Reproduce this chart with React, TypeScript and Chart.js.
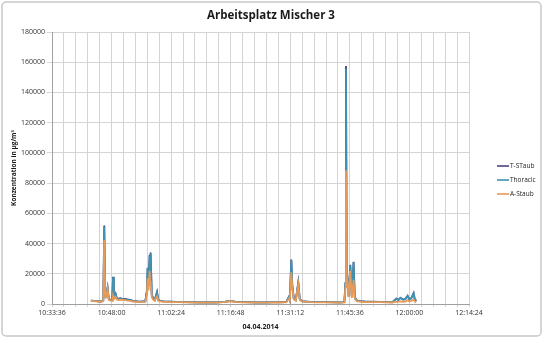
import { useEffect, useRef } from "react";
import { Chart, registerables } from "chart.js";

Chart.register(...registerables);

const TITLE = "Arbeitsplatz Mischer 3";
const X_TITLE = "04.04.2014";
const Y_TITLE = "Konzentration in µg/m³";
const SERIES_NAMES = ["T-STaub", "Thoracic", "A-Staub"];
const SERIES_COLORS = ["#4a4580", "#3f93b2", "#e89a58"];

const X_MIN = "10:33:36";
const X_MAX = "12:14:24";
const X_GRID_STEP = 172.8; // seconds
const X_LABEL_STEP = 864; // seconds
const Y_MIN = 0;
const Y_MAX = 180000;
const Y_STEP = 20000;

const times = [
  "10:43:00", "10:43:40", "10:44:20", "10:45:00", "10:45:40", "10:46:00", "10:46:14", "10:46:26",
  "10:46:36", "10:47:02", "10:47:20", "10:47:42", "10:48:10", "10:48:21", "10:48:32", "10:48:58",
  "10:49:16", "10:49:40", "10:50:07", "10:50:40", "10:51:19", "10:51:50", "10:52:32", "10:53:10",
  "10:53:44", "10:54:20", "10:54:57", "10:55:30", "10:56:09", "10:56:31", "10:56:43", "10:56:57",
  "10:57:12", "10:57:19", "10:57:26", "10:57:43", "10:58:05", "10:58:27", "10:58:59", "10:59:18",
  "10:59:47", "11:00:40", "11:02:12", "11:03:50", "11:05:49", "11:07:30", "11:09:27", "11:11:20",
  "11:13:04", "11:14:30", "11:15:29", "11:16:42", "11:18:09", "11:19:50", "11:21:32", "11:23:20",
  "11:25:10", "11:27:00", "11:28:47", "11:30:14", "11:30:51", "11:31:05", "11:31:27", "11:31:41",
  "11:32:03", "11:32:32", "11:33:08", "11:33:30", "11:34:06", "11:36:02", "11:37:50", "11:39:40",
  "11:41:30", "11:43:18", "11:44:16", "11:44:32", "11:44:40", "11:44:50", "11:45:06", "11:45:19",
  "11:45:42", "11:46:04", "11:46:30", "11:46:48", "11:47:24", "11:49:20", "11:51:10", "11:52:58",
  "11:54:30", "11:55:52", "11:56:50", "11:57:19", "11:57:48", "11:58:31", "11:59:00", "11:59:34",
  "11:59:58", "12:00:27", "12:01:01", "12:01:18", "12:01:40",
];

const tStaub = [
  2300, 2100, 1900, 1700, 1800, 2400, 52000, 9000,
  4200, 11000, 3200, 2700, 2600, 18000, 4200, 6800,
  3800, 3500, 3800, 3400, 3300, 3000, 2700, 2100,
  1900, 1700, 1600, 1700, 1800, 8500, 24000, 12500,
  32500, 20500, 34000, 6200, 3700, 2700, 8000, 2700,
  2100, 1800, 1600, 1400, 1300, 1200, 1100, 1200,
  1100, 1300, 1600, 2100, 1400, 1300, 1200, 1100,
  1100, 1200, 1200, 1400, 4700, 2700, 29500, 12500,
  3700, 2700, 14500, 3200, 1900, 1400, 1300, 1300,
  1200, 1100, 1300, 14000, 157500, 24000, 12500, 5200,
  26000, 5200, 28000, 4200, 2100, 1600, 1500, 1400,
  1300, 1200, 3600, 2600, 4100, 2900, 3300, 5500,
  3100, 3900, 7200, 3100, 2100,
];

const thoracic = [
  2200, 2000, 1850, 1650, 1700, 2300, 51000, 8500,
  4000, 10600, 3000, 2500, 2400, 17700, 4000, 6600,
  3600, 3300, 3600, 3200, 3100, 2800, 2500, 1900,
  1800, 1600, 1500, 1600, 1700, 8000, 23600, 12000,
  31800, 20000, 33500, 6000, 3500, 2500, 7700, 2500,
  2000, 1700, 1500, 1300, 1200, 1100, 1000, 1100,
  1000, 1200, 1500, 2000, 1300, 1200, 1100, 1000,
  1000, 1100, 1100, 1300, 4500, 2500, 29000, 12000,
  3500, 2500, 14100, 3000, 1800, 1300, 1200, 1200,
  1100, 1000, 1200, 13500, 155500, 23000, 12000, 5000,
  25600, 5000, 27600, 4000, 2000, 1500, 1400, 1300,
  1200, 1100, 3500, 2500, 4000, 2800, 3200, 5300,
  3000, 3800, 7000, 3000, 2000,
];

const aStaub = [
  2000, 1850, 1700, 1500, 1550, 2000, 42500, 7000,
  3500, 10000, 2700, 2200, 2100, 5500, 3000, 4500,
  3000, 2600, 2800, 2700, 2600, 2300, 2000, 1600,
  1500, 1400, 1300, 1400, 1500, 6000, 17000, 9000,
  22000, 15000, 15500, 4500, 2800, 2200, 5000, 2100,
  1700, 1500, 1300, 1200, 1100, 1000, 900, 1000,
  900, 1100, 1400, 1800, 1200, 1100, 1000, 900,
  900, 1000, 1000, 1200, 3500, 2200, 21000, 10000,
  3000, 2200, 13000, 2600, 1600, 1200, 1100, 1100,
  1000, 900, 1100, 11000, 88500, 20000, 11000, 4500,
  22000, 4000, 16000, 3200, 1700, 1300, 1200, 1200,
  1100, 1000, 1500, 1400, 1700, 1500, 1600, 2500,
  1600, 2000, 3000, 1500, 1200,
];

const FONT = '"Open Sans", "Noto Sans", sans-serif';

function toSec(s: string): number {
  const [h, m, x] = s.split(":").map(Number);
  return h * 3600 + m * 60 + x;
}
function fmtTime(v: number): string {
  const t = Math.round(v);
  const h = Math.floor(t / 3600);
  const m = Math.floor((t % 3600) / 60);
  const s = t % 60;
  return `${h}:${String(m).padStart(2, "0")}:${String(s).padStart(2, "0")}`;
}

export default function App() {
  const ref = useRef<HTMLCanvasElement>(null);

  useEffect(() => {
    document.body.style.margin = "0";
    const canvas = ref.current;
    if (!canvas) return;
    const xs = times.map(toSec);
    const xMin = toSec(X_MIN);
    const xMax = toSec(X_MAX);
    const seriesValues = [tStaub, thoracic, aStaub];

    const datasets = SERIES_NAMES.map((name, k) => ({
      label: name,
      data: seriesValues[k].map((v, i) => ({ x: xs[i], y: v })),
      borderColor: SERIES_COLORS[k],
      backgroundColor: SERIES_COLORS[k],
      borderWidth: 1.8,
      pointRadius: 0,
      tension: 0,
      order: 3 - k,
    }));

    const decor = {
      id: "decor",
      beforeDraw(chart: any) {
        const ctx = chart.ctx;
        ctx.save();
        ctx.fillStyle = "#ffffff";
        ctx.fillRect(0, 0, chart.width, chart.height);
        ctx.strokeStyle = "#c8c8c8";
        ctx.lineWidth = 1.5;
        ctx.beginPath();
        (ctx as any).roundRect(2, 2, 539, 334, 4);
        ctx.stroke();
        ctx.restore();
      },
      afterDraw(chart: any) {
        const ctx = chart.ctx;
        ctx.save();
        ctx.fillStyle = "#1a1a1a";
        ctx.font = `bold 11.5px ${FONT}`;
        ctx.textAlign = "center";
        ctx.textBaseline = "middle";
        ctx.fillText(TITLE, 271, 16);
        // legend
        ctx.font = `6.5px ${FONT}`;
        ctx.textAlign = "left";
        const ys = [166, 180, 194];
        SERIES_NAMES.forEach((name, k) => {
          ctx.strokeStyle = SERIES_COLORS[k];
          ctx.lineWidth = 1.6;
          ctx.beginPath();
          ctx.moveTo(497, ys[k]);
          ctx.lineTo(509, ys[k]);
          ctx.stroke();
          ctx.fillStyle = "#222";
          ctx.fillText(name, 510, ys[k]);
        });
        ctx.restore();
      },
    };

    const chart = new Chart(canvas, {
      type: "line",
      data: { datasets },
      options: {
        animation: false,
        responsive: false,
        layout: { padding: { left: 0, right: 75, top: 32, bottom: 0 } },
        plugins: {
          legend: { display: false },
          title: { display: false },
          tooltip: { enabled: false },
        },
        scales: {
          x: {
            type: "linear",
            min: xMin,
            max: xMax,
            ticks: {
              stepSize: X_GRID_STEP,
              autoSkip: false,
              maxRotation: 0,
              padding: 2,
              color: "#333",
              font: { family: FONT, size: 7 },
              callback: (v: any) => {
                const r = (Number(v) - xMin) / X_LABEL_STEP;
                return Math.abs(r - Math.round(r)) < 1e-6 ? fmtTime(Number(v)) : "";
              },
            },
            grid: { color: "#d4d4d4", tickLength: 3, lineWidth: 1 },
            border: { color: "#a0a0a0" },
            title: {
              display: true,
              text: X_TITLE,
              color: "#1a1a1a",
              font: { family: FONT, size: 7, weight: "bold" },
              padding: { top: 0, bottom: 8 },
            },
            afterFit: (s: any) => {
              s.height = 35;
            },
          },
          y: {
            min: Y_MIN,
            max: Y_MAX,
            ticks: {
              stepSize: Y_STEP,
              padding: 2,
              color: "#333",
              font: { family: FONT, size: 7 },
              callback: (v: any) => String(v),
            },
            grid: { color: "#d4d4d4", tickLength: 5, lineWidth: 1 },
            border: { color: "#a0a0a0" },
            title: {
              display: true,
              text: Y_TITLE,
              color: "#1a1a1a",
              font: { family: FONT, size: 6.5, weight: "bold" },
              padding: { top: 10, bottom: 0 },
            },
            afterFit: (s: any) => {
              s.width = 52;
            },
          },
        },
      },
      plugins: [decor],
    });
    return () => chart.destroy();
  }, []);

  return <canvas ref={ref} width={544} height={339} style={{ display: "block" }} />;
}
